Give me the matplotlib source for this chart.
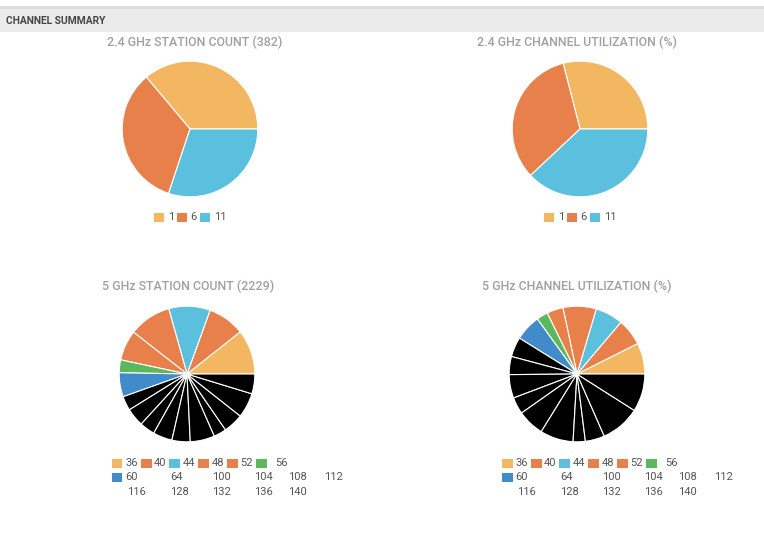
import matplotlib
matplotlib.use("Agg")
import matplotlib.pyplot as plt
from matplotlib.patches import Rectangle

W, H = 764, 540
plt.rcParams['font.family'] = ['Roboto', 'DejaVu Sans']

# ---------------- data ----------------
ch24 = ["1", "6", "11"]
sta24 = [138, 129, 115]
util24 = [29, 33, 38]

ch5 = ["36", "40", "44", "48", "52", "56", "60", "64", "100", "104",
       "108", "112", "116", "128", "132", "136", "140"]
sta5 = [238, 196, 220, 225, 161, 68, 128, 76, 97, 81, 102, 97, 130, 67, 106, 132, 105]
util5 = [7.4, 6.4, 6.6, 7.9, 3.9, 2.7, 6.2, 4.7, 4.3, 5.6, 4.0, 6.4, 7.9, 2.9, 4.6, 9.4, 9.0]

YEL, ORG, BLU, GRN, DBL, BLK = "#F3B661", "#E8804B", "#5BC0DE", "#5CB85C", "#428BCA", "#000000"
col24 = [YEL, ORG, BLU]
col5 = [YEL, ORG, BLU, ORG, ORG, GRN, DBL] + [BLK] * 10

titles = ["2.4 GHz STATION COUNT (382)", "2.4 GHz CHANNEL UTILIZATION (%)",
          "5 GHz STATION COUNT (2229)", "5 GHz CHANNEL UTILIZATION (%)"]

# ---------------- layout ----------------
fig = plt.figure(figsize=(W / 100, H / 100), dpi=100)
fig.patch.set_facecolor("white")

def fx(x): return x / W
def fy(y): return 1 - y / H

# header band
fig.patches.append(Rectangle((0, fy(31.5)), 1, (31.5 - 8) / H, transform=fig.transFigure,
                             facecolor="#EBEBEB", edgecolor="none", zorder=0))
fig.patches.append(Rectangle((0, fy(8.5)), 1, 2.5 / H, transform=fig.transFigure,
                             facecolor="#DCDCDC", edgecolor="none", zorder=0))
fig.text(fx(6), fy(20.5), "CHANNEL SUMMARY", fontsize=7.4, fontweight="bold",
         color="#454545", ha="left", va="center")

R = 68.5
panels = [
    dict(cx=190, cy=129, vals=sta24, cols=col24, title_x=195, title_y=42),
    dict(cx=580, cy=129, vals=util24, cols=col24, title_x=577, title_y=42),
    dict(cx=187, cy=374, vals=sta5, cols=col5, title_x=188, title_y=286),
    dict(cx=577, cy=374, vals=util5, cols=col5, title_x=577, title_y=286),
]

for p, t in zip(panels, titles):
    ax = fig.add_axes([fx(p["cx"] - R), fy(p["cy"] + R), 2 * R / W, 2 * R / H])
    ax.pie(p["vals"], colors=p["cols"], startangle=0, counterclock=True, radius=1,
           wedgeprops=dict(edgecolor="white", linewidth=0.8))
    ax.set_xlim(-1.01, 1.01)
    ax.set_ylim(-1.01, 1.01)
    ax.set_aspect("equal")
    ax.axis("off")
    fig.text(fx(p["title_x"]), fy(p["title_y"]), t, fontsize=8.9, fontweight="medium",
             color="#A0A0A0", ha="center", va="center")

# 2.4 GHz legends: (swatch x offset, text x offset)
leg24 = [(0, 14), (23, 36), (46, 60)]
for x0 in (154, 544):
    for (sx, tx), lab, c in zip(leg24, ch24, col24):
        fig.patches.append(Rectangle((fx(x0 + sx), fy(222.5)), 10 / W, 9 / H,
                                     transform=fig.transFigure, facecolor=c, edgecolor="none"))
        fig.text(fx(x0 + tx), fy(217.5), lab, fontsize=8, color="#555555",
                 ha="left", va="center")

# 5 GHz legends: (swatch x offset, text x offset, row y)
leg5 = [(0, 13, 463), (29, 42, 463), (57, 71, 463), (86, 100, 463), (115, 128, 463), (144, 163, 463),
        (0, 13, 477), (None, 58, 477), (None, 100, 477), (None, 142, 477), (None, 176, 477), (None, 212, 477),
        (None, 15, 492), (None, 58, 492), (None, 100, 492), (None, 142, 492), (None, 176, 492)]
for x0 in (112, 502):
    for (sx, tx, ry), lab, c in zip(leg5, ch5, col5):
        if sx is not None and c != BLK:
            fig.patches.append(Rectangle((fx(x0 + sx), fy(ry + 4.5)), 10.5 / W, 9 / H,
                                         transform=fig.transFigure, facecolor=c, edgecolor="none"))
        fig.text(fx(x0 + tx), fy(ry), lab, fontsize=8, color="#555555",
                 ha="left", va="center")

fig.savefig("out.png", dpi=100)
